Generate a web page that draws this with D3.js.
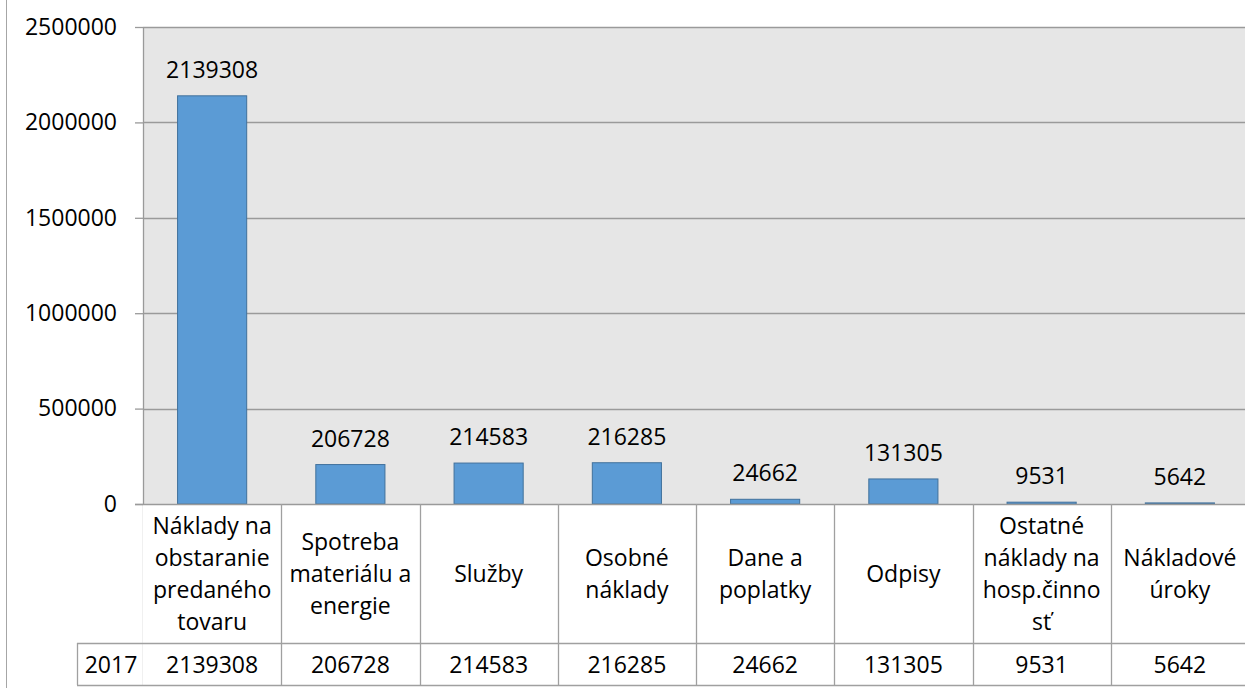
<!DOCTYPE html>
<html>
<head>
<meta charset="utf-8">
<script src="https://cdn.jsdelivr.net/npm/d3@7"></script>
<style>
  html, body { margin: 0; padding: 0; background: #fff; }
  svg { display: block; }
  text { font-family: "Open Sans", "Liberation Sans", sans-serif; fill: #000; }
</style>
</head>
<body>
<svg id="chart" width="1245" height="688"></svg>
<script>
// ---- data ----
const categories = [
  "Náklady na obstaranie predaného tovaru",
  "Spotreba materiálu a energie",
  "Služby",
  "Osobné náklady",
  "Dane a poplatky",
  "Odpisy",
  "Ostatné náklady na hosp.činnosť",
  "Nákladové úroky"
];
const categoryLines = [
  ["Náklady na", "obstaranie", "predaného", "tovaru"],
  ["Spotreba", "materiálu a", "energie"],
  ["Služby"],
  ["Osobné", "náklady"],
  ["Dane a", "poplatky"],
  ["Odpisy"],
  ["Ostatné", "náklady na", "hosp.činno", "sť"],
  ["Nákladové", "úroky"]
];
const seriesName = "2017";
const values2017 = [2139308, 206728, 214583, 216285, 24662, 131305, 9531, 5642];
const yTicks = [0, 500000, 1000000, 1500000, 2000000, 2500000];

// ---- layout ----
const svg = d3.select("#chart");
const plotLeft = 143, plotRight = 1249, plotTop = 27, plotBottom = 504;
const headerBottom = 643, tableBottom = 685, rowLabelLeft = 77;
const fontSize = 23;

const x = d3.scaleBand().domain(categories).range([plotLeft, plotRight]).paddingInner(0).paddingOuter(0);
const xBar = d3.scaleBand().domain(categories).range([plotLeft, plotRight]).paddingInner(0.5).paddingOuter(0.25);
const y = d3.scaleLinear().domain([0, 2500000]).range([plotBottom, plotTop]);

const data = categories.map((c, i) => ({ cat: c, lines: categoryLines[i], v: values2017[i] }));

// outer chart border
svg.append("line").attr("x1", 6.5).attr("x2", 6.5).attr("y1", 0).attr("y2", 688)
  .attr("stroke", "#A6A6A6").attr("stroke-width", 1);

// plot background
svg.append("rect").attr("x", plotLeft).attr("y", plotTop)
  .attr("width", plotRight - plotLeft).attr("height", plotBottom - plotTop)
  .attr("fill", "#E6E6E6");

// gridlines
svg.append("g").selectAll("line").data(yTicks.filter(t => t > 0)).join("line")
  .attr("x1", plotLeft).attr("x2", plotRight)
  .attr("y1", d => Math.round(y(d)) + 0.5).attr("y2", d => Math.round(y(d)) + 0.5)
  .attr("stroke", "#9A9A9A").attr("stroke-width", 1.3);

// y axis
const yAxis = d3.axisLeft(y).tickValues(yTicks).tickSize(8).tickPadding(18).tickFormat(d3.format("d"));
const gy = svg.append("g").attr("transform", `translate(${plotLeft},0)`).call(yAxis);
gy.select(".domain").remove();
gy.selectAll(".tick line").attr("stroke", "#9A9A9A").attr("stroke-width", 1.3);
gy.selectAll(".tick text").attr("font-size", fontSize).attr("font-family", '"Open Sans", sans-serif').attr("fill", "#000");
svg.append("line").attr("x1", plotLeft + 0.5).attr("x2", plotLeft + 0.5).attr("y1", plotTop).attr("y2", tableBottom)
  .attr("stroke", "#9A9A9A").attr("stroke-width", 1.3);

// bars
svg.append("g").selectAll("rect").data(data).join("rect")
  .attr("x", d => xBar(d.cat))
  .attr("width", xBar.bandwidth())
  .attr("y", d => y(d.v))
  .attr("height", d => Math.max(1, y(0) - y(d.v)))
  .attr("fill", "#5B9BD5")
  .attr("stroke", "#41719C").attr("stroke-width", 1);

// data labels
svg.append("g").selectAll("text").data(data).join("text")
  .attr("x", d => x(d.cat) + x.bandwidth() / 2)
  .attr("y", d => y(d.v) - 18)
  .attr("text-anchor", "middle")
  .attr("font-size", fontSize)
  .text(d => d.v);

// data table background
svg.append("rect").attr("x", plotLeft).attr("y", plotBottom).attr("width", plotRight - plotLeft)
  .attr("height", tableBottom - plotBottom).attr("fill", "#fff");

const tableStroke = "#A0A0A0";
const tg = svg.append("g");
// zero line / header top
tg.append("line").attr("x1", plotLeft - 8).attr("x2", plotRight).attr("y1", plotBottom + 0.5).attr("y2", plotBottom + 0.5)
  .attr("stroke", "#9A9A9A").attr("stroke-width", 1.3);
// horizontal row lines
tg.append("line").attr("x1", rowLabelLeft).attr("x2", plotRight).attr("y1", headerBottom + 0.5).attr("y2", headerBottom + 0.5)
  .attr("stroke", tableStroke).attr("stroke-width", 1.3);
tg.append("line").attr("x1", rowLabelLeft).attr("x2", plotRight).attr("y1", tableBottom + 0.5).attr("y2", tableBottom + 0.5)
  .attr("stroke", tableStroke).attr("stroke-width", 1.3);
tg.append("line").attr("x1", rowLabelLeft + 0.5).attr("x2", rowLabelLeft + 0.5).attr("y1", headerBottom).attr("y2", tableBottom)
  .attr("stroke", tableStroke).attr("stroke-width", 1.3);
// vertical cell separators
tg.selectAll("line.sep").data(categories.slice(1)).join("line").attr("class", "sep")
  .attr("x1", d => Math.round(x(d)) + 0.5).attr("x2", d => Math.round(x(d)) + 0.5)
  .attr("y1", plotBottom).attr("y2", tableBottom)
  .attr("stroke", tableStroke).attr("stroke-width", 1.3);

// category labels
const lineH = 32, headerMid = (plotBottom + headerBottom) / 2;
const cg = svg.append("g").selectAll("text").data(data).join("text")
  .attr("text-anchor", "middle")
  .attr("font-size", fontSize);
cg.each(function(d) {
  const n = d.lines.length;
  d3.select(this).selectAll("tspan").data(d.lines).join("tspan")
    .attr("x", x(d.cat) + x.bandwidth() / 2)
    .attr("y", (l, i) => headerMid + (i - (n - 1) / 2) * lineH + 8)
    .text(l => l);
});

// values row
svg.append("text").attr("x", (rowLabelLeft + plotLeft) / 2 + 1).attr("y", 673)
  .attr("text-anchor", "middle").attr("font-size", fontSize).text(seriesName);
svg.append("g").selectAll("text").data(data).join("text")
  .attr("x", d => x(d.cat) + x.bandwidth() / 2)
  .attr("y", 673)
  .attr("text-anchor", "middle")
  .attr("font-size", fontSize)
  .text(d => d.v);
</script>
</body>
</html>
